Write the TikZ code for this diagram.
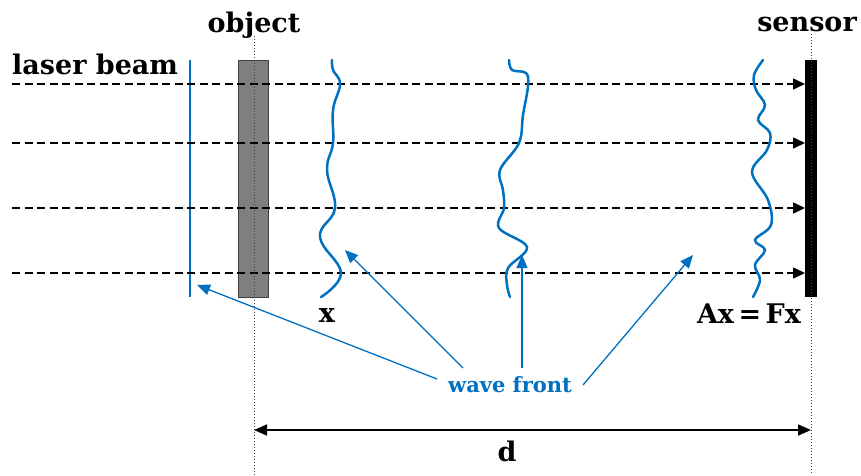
\documentclass[tikz,border=0pt]{standalone}
\usepackage{fontspec}
\setmainfont{DejaVu Serif}
\usetikzlibrary{arrows.meta}
\definecolor{wblue}{HTML}{0070C0}
\definecolor{objgray}{HTML}{7F7F7F}
\begin{document}
\begin{tikzpicture}[x=1pt,y=-1pt,
  lbl/.style={font=\bfseries\fontsize{27}{30}\selectfont, inner sep=0pt, anchor=base},
  wlbl/.style={font=\bfseries\fontsize{21}{24}\selectfont, inner sep=0pt, anchor=base, text=wblue},
  beam/.style={draw=black, line width=1.6pt, dash pattern=on 8pt off 4.5pt, -{Triangle[length=12pt,width=11pt]}},
  wave/.style={draw=wblue, line width=2.5pt, line cap=round},
  pointer/.style={draw=wblue, line width=1.3pt, -{Triangle[length=13pt,width=11pt]}},
  guide/.style={draw=black!75, line width=1pt, dash pattern=on 1pt off 2pt},
  dim/.style={draw=black, line width=1.6pt, {Triangle[length=13pt,width=11pt]}-{Triangle[length=13pt,width=11pt]}}]
\useasboundingbox (0,0) rectangle (861,475);

% guides
\coordinate (gObjTop) at (254,36);
\coordinate (gObjBot) at (254,475);
\coordinate (gSenTop) at (811,34);
\coordinate (gSenBot) at (811,475);

% object and sensor
\node[draw=black!75, fill=objgray, line width=1pt, minimum width=30pt, minimum height=237pt, inner sep=0pt] (obj) at (253,178.5) {};
\node[fill=black, minimum width=12pt, minimum height=237pt, inner sep=0pt] (sensor) at (811,178.5) {};

% laser line
\coordinate (lasTop) at (190,60);
\coordinate (lasBot) at (190,297);
\draw[draw=wblue, line width=2.6pt] (lasTop) -- (lasBot);

% beams
\foreach \y [count=\i] in {84,143,208,273} {
  \coordinate (b\i) at (12,\y);
  \coordinate (e\i) at (805,\y);
}
\foreach \i in {1,...,4} \draw[beam] (b\i) -- (e\i);

\draw[guide] (gObjTop) -- (gObjBot);
\draw[guide] (gSenTop) -- (gSenBot);

% wave fronts
\draw[wave] plot[smooth, tension=0.7] coordinates {(332,60) (333,70) (340,84) (333,110) (333,143) (327,170) (335,208) (320,237) (341,273) (321,297)};
\draw[wave] plot[smooth, tension=0.6] coordinates {(509,60) (512,70) (526,73) (528,86) (523,115) (519,143) (500,170) (503,190) (504,208) (499,228) (527,247) (508,268) (507,285) (510,297)};
\draw[wave] plot[smooth, tension=0.6] coordinates {(763,60) (754,75) (756,90) (765,105) (758,120) (770,133) (767,150) (752,172) (768,200) (771,225) (755,240) (765,250) (755,265) (760,280) (753,297)};

% labels
\node[lbl, anchor=base west] (tLaser) at (12,74) {laser beam};
\node[lbl] (tObject) at (254,32) {object};
\node[lbl] (tSensor) at (807,31) {sensor};
\node[lbl] (tX) at (327,322) {x};
\node[lbl] (tAx) at (749,323) {Ax\,=\,Fx};
\node[lbl] (tD) at (507,461) {d};
\node[wlbl] (tWave) at (510,392) {wave front};

% pointers
\coordinate (p1) at (197,285);
\coordinate (p2) at (345,250);
\coordinate (p3) at (522,255);
\coordinate (p4) at (693,255);
\draw[pointer] (437,379) -- (p1);
\draw[pointer] (463,368) -- (p2);
\draw[pointer] (522,368) -- (p3);
\draw[pointer] (583,385) -- (p4);

% dimension
\coordinate (dL) at (254,430);
\coordinate (dR) at (811,430);
\draw[dim] (dL) -- (dR);
\end{tikzpicture}
\end{document}
